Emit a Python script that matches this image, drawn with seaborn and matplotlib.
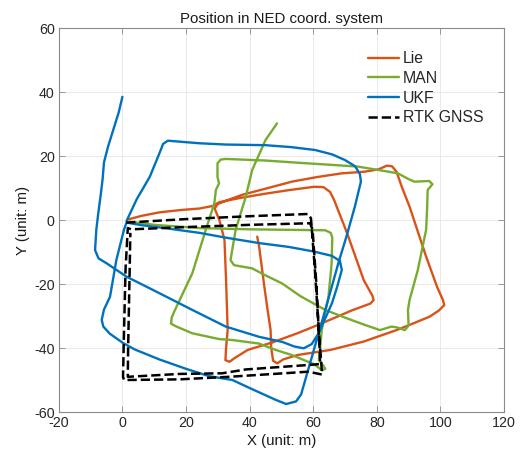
import matplotlib
matplotlib.use('Agg')
import matplotlib.pyplot as plt
import seaborn as sns
import numpy as np
import pandas as pd

# trajectories (unit: m)
lie_x = [1.8, 6, 11.6, 18, 24.2, 28.4, 30.5, 37, 44.7, 52, 60.3, 63.2, 65.3, 66.6, 70.7, 75.9, 78.6, 79, 78,
         72, 67.6, 60, 55, 47, 39.4, 35.2, 33.7, 32.4, 32.6, 33.1, 32.8, 32.6, 32.1, 30.5, 29, 30,
         33, 37.7, 45, 53.3, 61, 69, 76, 80.4, 83.2, 84.8, 86.2, 88, 90.3, 95.5, 99, 100.8, 101.2,
         99.5, 96.6, 91, 86.2, 75.8, 65.4, 55, 50.5, 48.7, 47.4, 46.8, 46.6, 45.5, 44.5, 43, 42.4]
lie_y = [0.2, 1.3, 2.4, 3.1, 3.6, 4.4, 5.6, 6.9, 8.2, 9.3, 10.4, 10.3, 8.8, 6.2, -4.2, -18.8, -23.6, -25, -26.1,
         -28.3, -30.2, -33.4, -35.4, -38.3, -40.6, -43.2, -44.3, -43.8, -40, -34.4, -25, -18.8, -6.2, 0, 3.6, 5,
         6.2, 7.9, 9.8, 12, 13.4, 14.6, 15.1, 15.8, 17, 16.8, 15.1, 10, 4.2, -11.4, -21, -25, -26.6,
         -28.3, -30.2, -32.5, -34.4, -38, -40.6, -42.2, -43.6, -44.8, -44, -40, -34.4, -27, -19.8, -8.3, -5.2]

man_x = [2.3, 10, 24.2, 40, 55.4, 63.8, 65.5, 66, 65.8, 64.8, 63.5, 62.7, 61.8, 63.2, 63.8, 62.8, 61, 59.6,
         53.3, 48.2, 42.9, 34.6, 30.4, 22, 17, 15.3, 15.5, 16.3, 22, 26.2, 28.9, 29.4, 30.4, 29.9, 29.9,
         30.9, 32.5, 45, 55.4, 65, 74.1, 82, 86.6, 90, 91.8, 96.5, 97.5, 96, 95.8, 95.5, 92.9, 90.3, 89.8,
         90, 88.8, 86.5, 84.6, 81, 76.3, 70, 63.8, 56, 50.2, 45, 40.8, 35.1, 34, 35.6, 38.8, 40.8, 45, 48.6]
man_y = [-0.5, -1.5, -2.5, -2.9, -3.1, -3.2, -4, -5.5, -13.5, -24, -30, -34.4, -43.8, -45.5, -46.5, -47, -45.6, -44.8,
         -42.2, -40.6, -38.6, -37.5, -37.2, -35.4, -33.3, -32.4, -30.5, -28.6, -16.6, -3.1, 5.2, 9.4, 11.5, 13.5, 17.7,
         18.9, 19.1, 18.6, 17.9, 17.3, 16.7, 15.4, 14.6, 12.8, 12, 12.2, 11.2, 9.4, 3, -3.1, -15.6, -25, -28.1,
         -33, -34.4, -33.6, -33.3, -34.4, -32.8, -30.5, -28.1, -23.8, -19.8, -17.3, -15.1, -14.1, -12.5, -3.1, 7.3, 15.6, 25, 30.2]

ukf_x = [1.3, 4.5, 8.6, 11.5, 12.8, 14.3, 24.2, 32.5, 45, 53, 60.6, 66, 70, 73.2, 74.7, 75, 73.1, 70.5, 67.9,
         63.8, 59.6, 57.5, 56.2, 54.6, 51.5, 48.2, 40, 34.6, 27.3, 20, 11.7, 4, 0.3, -4, -6, -6.5, -5.8, -3.9,
         -1.9, 0.5, 1.3, 6, 11.7, 24.2, 32.5, 43, 52.3, 60, 65.9, 68.4, 69, 67.5, 65.9, 61.7, 59.5, 57, 54,
         50.3, 43, 32.5, 22, 11.7, 1.3, -5, -7.5, -8.6, -8.2, -7.6, -6.8, -6.2, -5.8, -4.5, -2.9, -1.2, 0]
ukf_y = [-0.3, 6.5, 13.5, 20.5, 23.8, 24.8, 24, 23.6, 23.4, 22.8, 21.9, 20.5, 18.75, 16.8, 14.3, 12, 4.2, -5, -13.5,
         -28.1, -42.7, -50, -54.5, -56.7, -57.5, -56.2, -52.5, -50, -48.8, -46.5, -43.6, -40.5, -38.5, -35.5, -33.3, -31.2, -28, -24,
         -12.5, -3, -0.8, -1.6, -2.3, -4, -5.5, -7.2, -8.4, -9.8, -11.2, -12.8, -15.6, -21, -26, -35.4, -38.8, -40.1, -39.5,
         -38.1, -36.5, -33.3, -28.1, -22.9, -17.7, -13.5, -12, -9.4, -3, 2, 8, 13, 18, 23, 28.1, 33.5, 38.5]

rtk_x = [1.2, 20, 40, 58.5, 59.3, 60.5, 61.8, 62.8, 58.5, 33.5, 17.9, 0.5, 0.2, 0.5, 1, 1.7,
         2.8, 20, 40, 59, 59.8, 61, 62, 62.2, 58.5, 38.8, 31.4, 17.9, 1.7, 1.8, 2.2, 2.5]
rtk_y = [-0.8, 0.3, 1.2, 1.9, 0.5, -15, -35, -48.3, -47.4, -49, -49.8, -50, -49, -35, -15, -2.5,
         -2.9, -2.2, -1.5, -1, -3, -20, -40, -45, -45.3, -46.7, -47.9, -48.1, -49, -40, -20, -4]

sns.set_theme(style='whitegrid')
plt.rcParams['font.family'] = ['Liberation Sans', 'DejaVu Sans']
plt.rcParams['axes.unicode_minus'] = False
plt.rcParams['axes.edgecolor'] = '#8a8a8a'
plt.rcParams['grid.color'] = '#e6e6e6'

fig = plt.figure(figsize=(5.25, 4.53), dpi=100)
ax = fig.add_axes([0.112, 0.0905, 0.848, 0.8475])

sns.lineplot(x=lie_x, y=lie_y, sort=False, estimator=None, ax=ax, color='#D95319', lw=1.7, label='Lie')
sns.lineplot(x=man_x, y=man_y, sort=False, estimator=None, ax=ax, color='#77AC30', lw=1.7, label='MAN')
sns.lineplot(x=ukf_x, y=ukf_y, sort=False, estimator=None, ax=ax, color='#0072BD', lw=1.7, label='UKF')
sns.lineplot(x=rtk_x, y=rtk_y, sort=False, estimator=None, ax=ax, color='black', lw=1.8,
             linestyle='--', label='RTK GNSS')

ax.set_xlim(-20, 120)
ax.set_ylim(-60, 60)
ax.set_xticks(np.arange(-20, 121, 20))
ax.set_yticks(np.arange(-60, 61, 20))
ax.tick_params(direction='in', length=4, width=0.6, colors='#8a8a8a', labelcolor='#262626',
               labelsize=10.3, top=True, right=True, bottom=True, left=True, pad=3)
for s in ax.spines.values():
    s.set_linewidth(0.8)
    s.set_color('#8a8a8a')
ax.grid(True, lw=0.6, color='#e6e6e6')

ax.set_title('Position in NED coord. system', fontsize=10.8, color='#1a1a1a', pad=4)
ax.set_xlabel('X (unit: m)', fontsize=10.8, color='#1a1a1a', labelpad=3)
ax.set_ylabel('Y (unit: m)', fontsize=10.8, color='#1a1a1a', labelpad=3)

leg = ax.legend(loc='upper left', bbox_to_anchor=(0.694, 0.94), frameon=False, fontsize=11.4,
                handlelength=2.0, handletextpad=0.2, labelspacing=0.3, borderpad=0, borderaxespad=0)

fig.savefig('out.png', dpi=100)
